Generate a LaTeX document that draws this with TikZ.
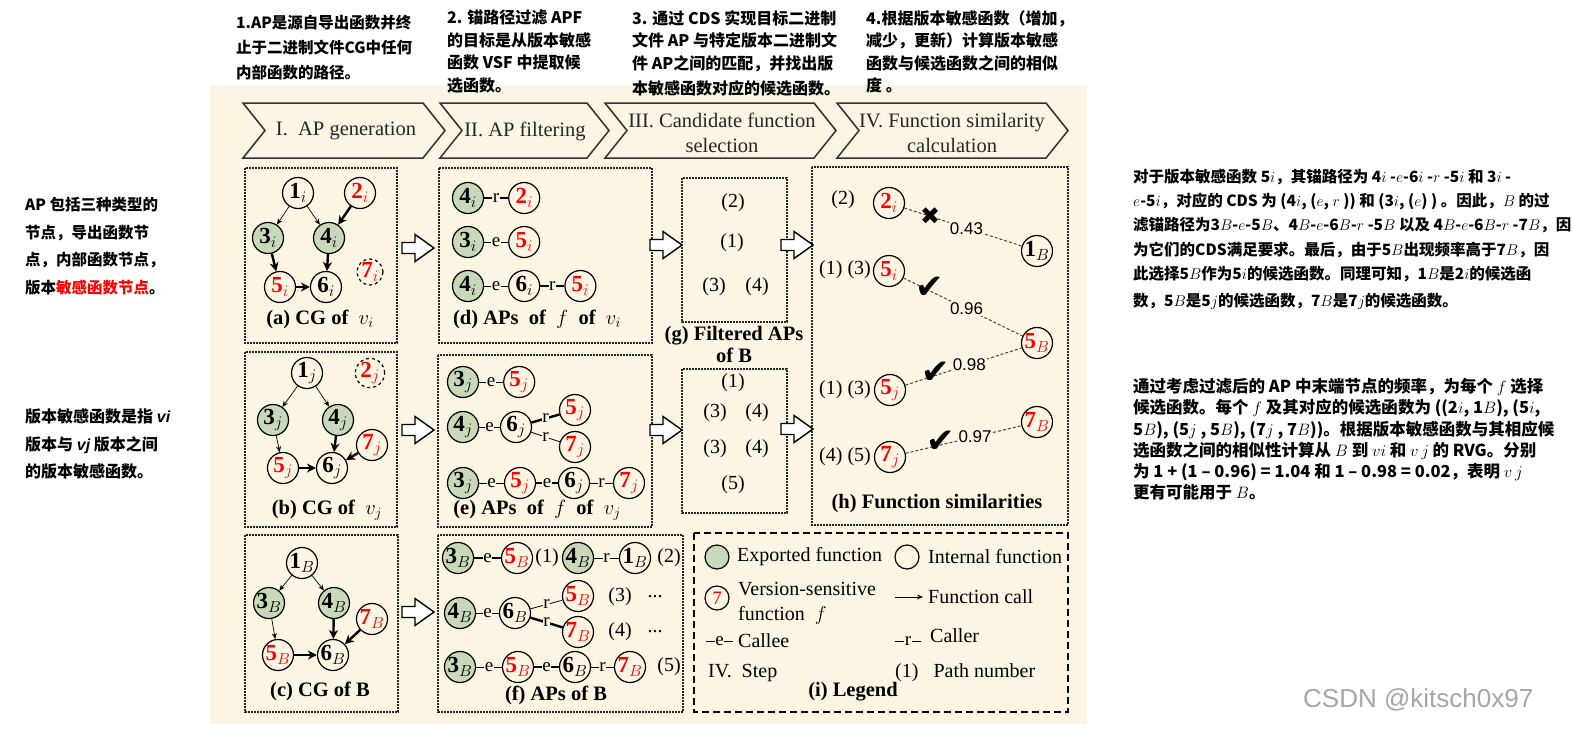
\RequirePackage{fix-cm}
\documentclass[tikz,border=0pt]{standalone}
\usepackage{fontspec}
\setmainfont{Liberation Serif}
\newfontfamily\cjk{Noto Sans CJK SC}
\newfontfamily\lsans{Liberation Sans}
\newfontfamily\dingfont{DejaVu Sans}
\usetikzlibrary{arrows.meta,positioning,calc}
\definecolor{bgcream}{RGB}{253,245,228}
\definecolor{expgreen}{RGB}{200,216,186}
\definecolor{simgray}{RGB}{70,70,70}
\tikzset{hollow/.pic={\draw[line width=1.4pt, fill=white, line join=miter]
  (-16,-5.5) -- (-3,-5.5) -- (-3,-13.5) -- (16,0) -- (-3,13.5) -- (-3,5.5) -- (-16,5.5) -- cycle;}}

\begin{document}
\begin{tikzpicture}[x=1pt, y=-1pt,
	   fn/.style={circle, draw, line width=1.2pt, fill=bgcream, minimum size=31pt, inner sep=0pt, font=\fontsize{23}{23}\selectfont},
	   ex/.style={fn, fill=expgreen},
	   vs/.style={fn, text=red},
	   gone/.style={fn, dashed, minimum size=26pt, text=red},
	   call/.style={-{Stealth[length=6pt, width=5pt]}, line width=0.7pt},
	   hcall/.style={-{Stealth[length=9pt, width=9pt]}, line width=2.4pt},
	   lk/.style={line width=0.8pt},
	   hlk/.style={line width=2.4pt},
	   tag/.style={fill=bgcream, inner sep=0.6pt, font=\fontsize{19}{19}\selectfont},
	   panel/.style={draw=black!85, line width=1.6pt, dash pattern=on 1.6pt off 1.4pt},
	   captext/.style={font=\bfseries\fontsize{20.5}{22}\selectfont, align=center},
	   num/.style={font=\fontsize{20}{20}\selectfont},
	   chev/.style={draw=black!80, line width=1.5pt, line join=miter},
	   stepname/.style={font=\fontsize{20.5}{25}\selectfont, text=black!85, align=center},
	   sim/.style={draw=simgray, line width=1pt, dash pattern=on 3pt off 2pt},
	   val/.style={fill=bgcream, inner sep=1pt, font=\lsans\fontsize{17}{17}\selectfont},
	   okmark/.style={inner sep=0pt, font=\dingfont\fontsize{34}{34}\selectfont},
	   note/.style={anchor=north west, inner sep=0pt, align=left, font=\cjk\bfseries\fontsize{16}{22.5}\selectfont},
	   lgd/.style={anchor=west, inner sep=0pt, font=\fontsize{20}{25}\selectfont, align=left}]
	  \useasboundingbox (0,0) rectangle (1573,732);
	  \fill[bgcream] (210,85) rectangle (1087,724);
	  % notes round the figure
	  \node[note, font=\cjk\bfseries\fontsize{15.5}{25}\selectfont] (t1) at (236,15) {1.AP是源自导出函数并终\\止于二进制文件CG中任何\\内部函数的路径。};
	  \node[note] (t2) at (447,10) {2. 锚路径过滤 APF\\的目标是从版本敏感\\函数 VSF 中提取候\\选函数。};
	  \node[note] (t3) at (632,10) {3. 通过 CDS 实现目标二进制\\文件 AP 与特定版本二进制文\\件 AP之间的匹配，并找出版\\[3pt]本敏感函数对应的候选函数。};
	  \node[note] (t4) at (866,10) {4.根据版本敏感函数（增加，\\减少，更新）计算版本敏感\\函数与候选函数之间的相似\\度 。};
	  \node[note, font=\cjk\bfseries\fontsize{15.5}{27.5}\selectfont] (t5) at (25,197) {AP 包括三种类型的\\节点，导出函数节\\点，内部函数节点，\\版本{\color{red}敏感函数节点}。};
	  \node[note, font=\cjk\bfseries\fontsize{16}{27.5}\selectfont] (t6) at (25,409) {版本敏感函数是指 {\lsans\bfseries\itshape vi}\\版本与 {\lsans\bfseries\itshape vj} 版本之间\\的版本敏感函数。};
	  \node[note, font=\cjk\bfseries\fontsize{15.5}{24.2}\selectfont] (t7) at (1133,169) {对于版本敏感函数 5$i$，其锚路径为 4$i$ -$e$-6$i$ -$r$ -5$i$ 和 3$i$ -\\$e$-5$i$，对应的 CDS 为 (4$i$, ($e$, $r$ )) 和 (3$i$, ($e$) ) 。因此，$B$ 的过\\滤锚路径为3$B$-$e$-5$B$、4$B$-$e$-6$B$-$r$ -5$B$ 以及 4$B$-$e$-6$B$-$r$ -7$B$，因\\为它们的CDS满足要求。最后，由于5$B$出现频率高于7$B$，因\\此选择5$B$作为5$i$的候选函数。同理可知，1$B$是2$i$的候选函\\[3pt]数，5$B$是5$j$的候选函数，7$B$是7$j$的候选函数。};
	  \node[note, font=\cjk\bfseries\fontsize{16.5}{21.3}\selectfont] (t8) at (1133,378) {通过考虑过滤后的 AP 中末端节点的频率，为每个 $f$ 选择\\候选函数。每个 $f$ 及其对应的候选函数为 ((2$i$, 1$B$), (5$i$,\\5$B$), (5$j$ , 5$B$), (7$j$ , 7$B$))。根据版本敏感函数与其相应候\\选函数之间的相似性计算从 $B$ 到 $vi$ 和 $v\,j$ 的 RVG。分别\\为 1 + (1 – 0.96) = 1.04 和 1 – 0.98 = 0.02，表明 $v\,j$\\更有可能用于 $B$。};
	  \node[anchor=west, inner sep=0pt, text=black!35, font=\lsans\fontsize{26}{26}\selectfont] (wm) at (1303,700) {CSDN @kitsch0x97};
	  % steps
	  \foreach \xa/\xb in {243/445, 440/609, 605/836, 837/1068}
	    \draw[chev] (\xa,103) -- (\xb-22,103) -- (\xb,130.5) -- (\xb-22,158) -- (\xa,158) -- (\xa+22,130.5) -- cycle;
	  \node[stepname] (s1) at (346,131) {I.\ \ AP generation};
	  \node[stepname] (s2) at (525,131) {II. AP filtering};
	  \node[stepname] (s3) at (722,133) {III. Candidate function\\selection};
	  \node[stepname] (s4) at (952,133) {IV. Function similarity\\calculation};
	  % panels
	  \draw[panel] (245,168) rectangle (397,343);
	  \draw[panel] (439,168) rectangle (652,343);
	  \draw[panel] (682,178) rectangle (787,322);
	  \draw[panel] (812,167) rectangle (1068,525);
	  \draw[panel] (245,352) rectangle (397,527);
	  \draw[panel] (438,355) rectangle (652,527);
	  \draw[panel] (682,369) rectangle (787,513);
	  \draw[panel] (245,535) rectangle (398,712);
	  \draw[panel] (438,535) rectangle (683,712);
	  \draw[line width=1.8pt, dash pattern=on 7pt off 4pt] (694,533) rectangle (1068,712);
	  \foreach \px/\py in {418/248, 418/430, 418/612, 666/245, 797/245, 666/430, 797/429}
	    \pic at (\px,\py) {hollow};
	  % (a)
	  \node[fn] (a1) at (298,193) {$\mathbf{1}_i$};
	  \node[vs] (a2) at (360,193) {$\mathbf{2}_i$};
	  \node[ex] (a3) at (268,238) {$\mathbf{3}_i$};
	  \node[ex] (a4) at (329,238) {$\mathbf{4}_i$};
	  \node[vs] (a5) at (280,287) {$\mathbf{5}_i$};
	  \node[fn] (a6) at (326,287) {$\mathbf{6}_i$};
	  \node[gone] (a7) at (370,272) {$\mathbf{7}_i$};
	  \draw[call] (a1) -- (a3); \draw[call] (a1) -- (a4);
	  \draw[hcall] (a2) -- (a4); \draw[hcall] (a3) -- (a5); \draw[hcall] (a4) -- (a6); \draw[hcall] (a5) -- (a6);
	  \node[captext] (acap) at (320,319) {(a) CG of\ \ $v_i$};
	  % (b)
	  \node[fn] (b1) at (307,373) {$\mathbf{1}_j$};
	  \node[gone] (b2) at (370,373) {$\mathbf{2}_j$};
	  \node[ex] (b3) at (273,420) {$\mathbf{3}_j$};
	  \node[ex] (b4) at (338,420) {$\mathbf{4}_j$};
	  \node[vs] (b7) at (372,445) {$\mathbf{7}_j$};
	  \node[vs] (b5) at (283,468) {$\mathbf{5}_j$};
	  \node[fn] (b6) at (332,468) {$\mathbf{6}_j$};
	  \draw[call] (b1) -- (b3); \draw[call] (b1) -- (b4); \draw[call] (b3) -- (b5);
	  \draw[hcall] (b4) -- (b6); \draw[hcall] (b5) -- (b6); \draw[hcall] (b7) -- (b6);
	  \node[captext] (bcap) at (327,510) {(b) CG of\ \ $v_j$};
	  % (c)
	  \node[fn] (c1) at (302,563) {$\mathbf{1}_B$};
	  \node[ex] (c3) at (269,603) {$\mathbf{3}_B$};
	  \node[ex] (c4) at (334,603) {$\mathbf{4}_B$};
	  \node[vs] (c7) at (372,619) {$\mathbf{7}_B$};
	  \node[vs] (c5) at (278,655) {$\mathbf{5}_B$};
	  \node[fn] (c6) at (333,655) {$\mathbf{6}_B$};
	  \draw[call] (c1) -- (c3); \draw[call] (c1) -- (c4); \draw[call] (c3) -- (c5);
	  \draw[hcall] (c4) -- (c6); \draw[hcall] (c5) -- (c6); \draw[hcall] (c7) -- (c6);
	  \node[captext] (ccap) at (320,691) {(c) CG of B};
	  % (d)
	  \node[ex] (d11) at (468,198) {$\mathbf{4}_i$};
	  \node[vs, right=24pt of d11] (d12) {$\mathbf{2}_i$};
	  \node[ex] (d21) at (468,242) {$\mathbf{3}_i$};
	  \node[vs, right=24pt of d21] (d22) {$\mathbf{5}_i$};
	  \node[ex] (d31) at (468,286) {$\mathbf{4}_i$};
	  \node[fn, right=24pt of d31] (d32) {$\mathbf{6}_i$};
	  \node[vs, right=24pt of d32] (d33) {$\mathbf{5}_i$};
	  \draw[hlk] (d11) -- node[tag]{r} (d12);
	  \draw[lk] (d21) -- node[tag]{e} (d22);
	  \draw[lk] (d31) -- node[tag]{e} (d32);
	  \draw[hlk] (d32) -- node[tag]{r} (d33);
	  \node[captext] (dcap) at (537,319) {(d) APs\ \ of\ \ $f$\ \ of\ \ $v_i$};
	  % (e)
	  \node[ex] (e11) at (463,382) {$\mathbf{3}_j$};
	  \node[vs, right=24pt of e11] (e12) {$\mathbf{5}_j$};
	  \node[ex] (e21) at (463,427) {$\mathbf{4}_j$};
	  \node[fn] (e22) at (516,427) {$\mathbf{6}_j$};
	  \node[vs] (e23) at (575,410) {$\mathbf{5}_j$};
	  \node[vs] (e24) at (575,447) {$\mathbf{7}_j$};
	  \node[ex] (e31) at (463,483) {$\mathbf{3}_j$};
	  \node[vs] (e32) at (520,483) {$\mathbf{5}_j$};
	  \node[fn] (e33) at (574,483) {$\mathbf{6}_j$};
	  \node[vs] (e34) at (629,483) {$\mathbf{7}_j$};
	  \draw[lk] (e11) -- node[tag]{e} (e12);
	  \draw[lk] (e21) -- node[tag]{e} (e22);
	  \draw[hlk] (e22) -- node[tag]{r} (e23);
	  \draw[lk] (e22) -- node[tag]{r} (e24);
	  \draw[lk] (e31) -- node[tag]{e} (e32);
	  \draw[hlk] (e32) -- node[tag]{e} (e33);
	  \draw[lk] (e33) -- node[tag]{r} (e34);
	  \node[captext] (ecap) at (537,510) {(e) APs\ \ of\ \ $f$\ \ of\ \ $v_j$};
	  % (f)
	  \node[ex] (f11) at (458,558) {$\mathbf{3}_B$};
	  \node[vs] (f12) at (517,558) {$\mathbf{5}_B$};
	  \node[ex] (f13) at (578,558) {$\mathbf{4}_B$};
	  \node[fn] (f14) at (635,558) {$\mathbf{1}_B$};
	  \node[ex] (f21) at (460,613) {$\mathbf{4}_B$};
	  \node[fn] (f22) at (515,613) {$\mathbf{6}_B$};
	  \node[vs] (f23) at (578,596) {$\mathbf{5}_B$};
	  \node[vs] (f24) at (578,632) {$\mathbf{7}_B$};
	  \node[ex] (f31) at (460,667) {$\mathbf{3}_B$};
	  \node[vs] (f32) at (518,667) {$\mathbf{5}_B$};
	  \node[fn] (f33) at (575,667) {$\mathbf{6}_B$};
	  \node[vs] (f34) at (630,667) {$\mathbf{7}_B$};
	  \draw[hlk] (f11) -- node[tag]{e} (f12);
	  \draw[lk] (f13) -- node[tag]{r} (f14);
	  \draw[lk] (f21) -- node[tag]{e} (f22);
	  \draw[lk] (f22) -- node[tag]{r} (f23);
	  \draw[hlk] (f22) -- node[tag]{r} (f24);
	  \draw[lk] (f31) -- node[tag]{e} (f32);
	  \draw[hlk] (f32) -- node[tag]{e} (f33);
	  \draw[lk] (f33) -- node[tag]{r} (f34);
	  \node[num] (fp1) at (547,558) {(1)};
	  \node[num] (fp2) at (669,558) {(2)};
	  \node[num] (fp3) at (620,597) {(3)};
	  \node[num] (fd3) at (655,597) {...};
	  \node[num] (fp4) at (620,632) {(4)};
	  \node[num] (fd4) at (655,632) {...};
	  \node[num] (fp5) at (669,667) {(5)};
	  \node[captext] (fcap) at (556,695) {(f) APs of B};
	  % (g)
	  \node[num] (g2) at (733,203) {(2)};
	  \node[num] (g1) at (732,243) {(1)};
	  \node[num] (g3) at (714,287) {(3)};
	  \node[num] (g4) at (757,287) {(4)};
	  \node[captext] (gcap) at (734,344) {(g) Filtered APs\\of B};
	  \node[num] (k1) at (733,383) {(1)};
	  \node[num] (k3) at (715,413) {(3)};
	  \node[num] (k4) at (757,413) {(4)};
	  \node[num] (k3b) at (715,449) {(3)};
	  \node[num] (k4b) at (757,449) {(4)};
	  \node[num] (k5) at (733,485) {(5)};
	  % (h)
	  \node[vs] (h2i) at (889,203) {$\mathbf{2}_i$};
	  \node[fn] (h1B) at (1037,251) {$\mathbf{1}_B$};
	  \node[vs] (h5i) at (889,271) {$\mathbf{5}_i$};
	  \node[vs] (h5B) at (1037,343) {$\mathbf{5}_B$};
	  \node[vs] (h5j) at (890,390) {$\mathbf{5}_j$};
	  \node[vs] (h7B) at (1037,422) {$\mathbf{7}_B$};
	  \node[vs] (h7j) at (890,457) {$\mathbf{7}_j$};
	  \draw[sim] (h2i) -- node[okmark, pos=0.22, font=\dingfont\fontsize{24}{24}\selectfont]{✖} node[val, pos=0.53]{0.43} (h1B);
	  \draw[sim] (h5i) -- node[okmark, pos=0.22, yshift=3pt]{✔} node[val, pos=0.53]{0.96} (h5B);
	  \draw[sim] (h5j) -- node[okmark, pos=0.26, yshift=3pt]{✔} node[val, pos=0.55]{0.98} (h5B);
	  \draw[sim] (h7j) -- node[okmark, pos=0.3, yshift=3pt]{✔} node[val, pos=0.6]{0.97} (h7B);
	  \node[num] (hl2) at (843,200) {(2)};
	  \node[num] (hl5i) at (845,270) {(1) (3)};
	  \node[num] (hl5j) at (845,390) {(1) (3)};
	  \node[num] (hl7j) at (845,457) {(4) (5)};
	  \node[captext] (hcap) at (937,504) {(h) Function similarities};
	  % (i) legend
	  \node[ex, minimum size=24pt] (lex) at (717,557) {};
	  \node[lgd] (lext) at (737,557) {Exported function};
	  \node[fn, minimum size=24pt] (lin) at (907,557) {};
	  \node[lgd] (lint) at (928,557) {Internal function};
	  \node[fn, minimum size=24pt, text=red, font=\fontsize{19}{19}\selectfont] (lvs) at (717,598) {7};
	  \node[lgd] (lvst) at (738,603) {Version-sensitive\\function\ \ $f$};
	  \coordinate (lca) at (895,597); \coordinate (lcb) at (923,597);
	  \draw[-{Stealth[length=6pt, width=5pt]}, line width=0.8pt] (lca) -- (lcb);
	  \node[lgd] (lcall) at (928,597) {Function call};
	  \coordinate (lea) at (706,641); \coordinate (leb) at (733,641);
	  \draw[lk] (lea) -- node[tag]{e} (leb);
	  \node[lgd] (lee) at (738,641) {Callee};
	  \coordinate (lra) at (895,641); \coordinate (lrb) at (921,641);
	  \draw[lk] (lra) -- node[tag]{r} (lrb);
	  \node[lgd] (lrr) at (930,636) {Caller};
	  \node[lgd] (liv) at (708,673) {IV.\ \ Step};
	  \node[lgd] (lpn) at (895,673) {(1)\ \ \ Path number};
	  \node[captext] (icap) at (853,692) {(i) Legend};
	\end{tikzpicture}
\end{document}
